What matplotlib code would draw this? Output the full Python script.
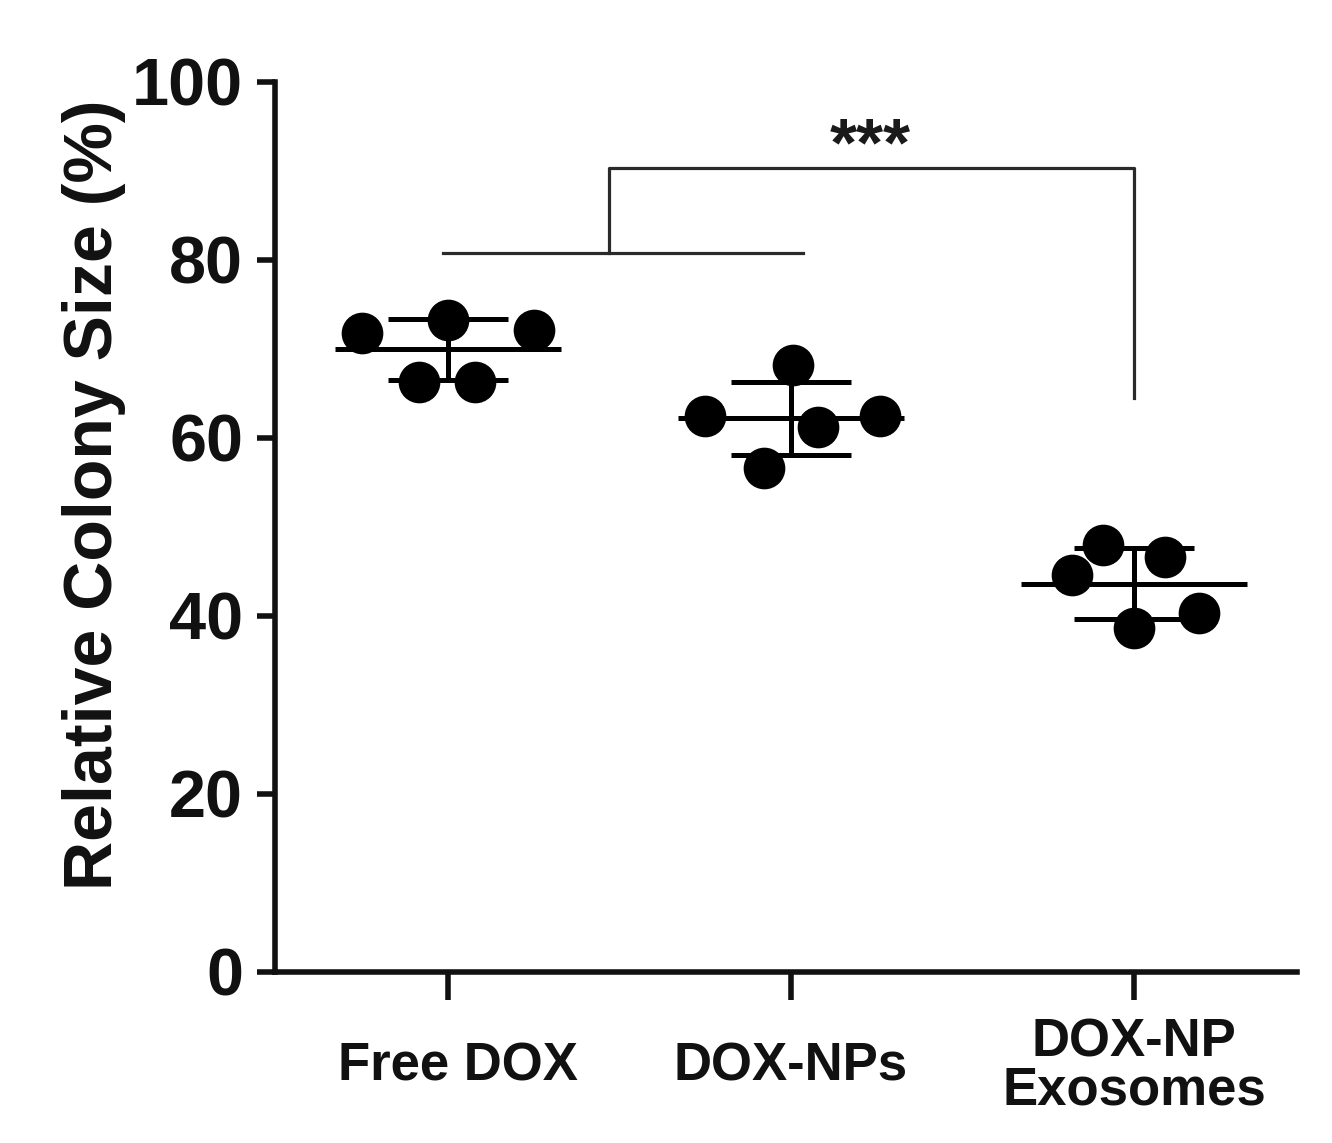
import matplotlib
matplotlib.use("Agg")
import matplotlib.pyplot as plt
import matplotlib.transforms as mtransforms
import numpy as np

plt.rcParams['font.family'] = ['Liberation Sans', 'DejaVu Sans']
plt.rcParams['font.weight'] = 'bold'

# ---- data ----
categories = ["Free DOX", "DOX-NPs", "DOX-NP\nExosomes"]
free_dox = [71.8, 73.3, 72.1, 66.3, 66.3]
dox_nps = [68.2, 62.5, 61.2, 62.5, 56.6]
dox_np_exo = [48.0, 46.6, 44.6, 38.7, 40.3]
groups = [free_dox, dox_nps, dox_np_exo]
yticks = [0, 20, 40, 60, 80, 100]
sig_label = "***"

# ---- layout (jitter offsets, styling) ----
jitter = [[-0.25, 0.0, 0.25, -0.085, 0.08],
          [0.005, -0.25, 0.08, 0.26, -0.08],
          [-0.09, 0.09, -0.18, 0.0, 0.19]]
label_dx_pts = [7, 0, 0]

fig = plt.figure(figsize=(13.32, 11.43), dpi=100)
ax = fig.add_axes([275/1332, 1 - 972/1143, (1297 - 275)/1332, (972 - 82)/1143])

lw_err = 3.6
for i, (vals, jit) in enumerate(zip(groups, jitter)):
    vals = np.asarray(vals)
    xs = i + np.asarray(jit)
    ax.plot(xs, vals, 'o', color='black', markersize=29, zorder=3, clip_on=False)
    m = vals.mean()
    sd = vals.std(ddof=1)
    ax.hlines(m, i - 0.33, i + 0.33, color='black', lw=lw_err, zorder=4)
    ax.hlines([m - sd, m + sd], i - 0.175, i + 0.175, color='black', lw=lw_err, zorder=4)
    ax.vlines(i, m - sd, m + sd, color='black', lw=lw_err, zorder=4)

# significance bracket
bc = '#2a2a2a'
blw = 2.3
ax.plot([-0.015, 1.035], [80.8, 80.8], color=bc, lw=blw, clip_on=False)
ax.plot([0.47, 0.47, 2.0, 2.0], [80.8, 90.3, 90.3, 64.5], color=bc, lw=blw, clip_on=False)
ax.text(1.23, 90.6, sig_label, ha='center', va='baseline', fontsize=50,
        fontweight='bold', color='#1a1a1a')

ax.set_xlim(-0.504, 2.475)
ax.set_ylim(0, 100)
ax.set_yticks(yticks)
ax.set_yticklabels([str(t) for t in yticks])
ax.set_xticks(range(len(categories)))
ax.set_xticklabels(categories)

for s in ['top', 'right']:
    ax.spines[s].set_visible(False)
for s in ['left', 'bottom']:
    ax.spines[s].set_linewidth(4)
    ax.spines[s].set_color('#111111')

ax.tick_params(axis='y', length=13, width=4, pad=10, labelsize=48, colors='#111111')
ax.tick_params(axis='x', length=20, width=4, pad=48, labelsize=38, colors='#111111')
for lab, dx in zip(ax.get_xticklabels(), label_dx_pts):
    lab.set_va('center')
    lab.set_linespacing(0.95)
    lab.set_fontweight('bold')
    if dx:
        lab.set_transform(lab.get_transform() +
                          mtransforms.ScaledTranslation(dx / 72, 0, fig.dpi_scale_trans))
for lab in ax.get_yticklabels():
    lab.set_fontweight('bold')

ax.set_ylabel("Relative Colony Size (%)", fontsize=49, fontweight='bold', color='#111111')
ax.yaxis.set_label_coords(-0.146, 0.536)

fig.savefig("out.png", dpi=100)
